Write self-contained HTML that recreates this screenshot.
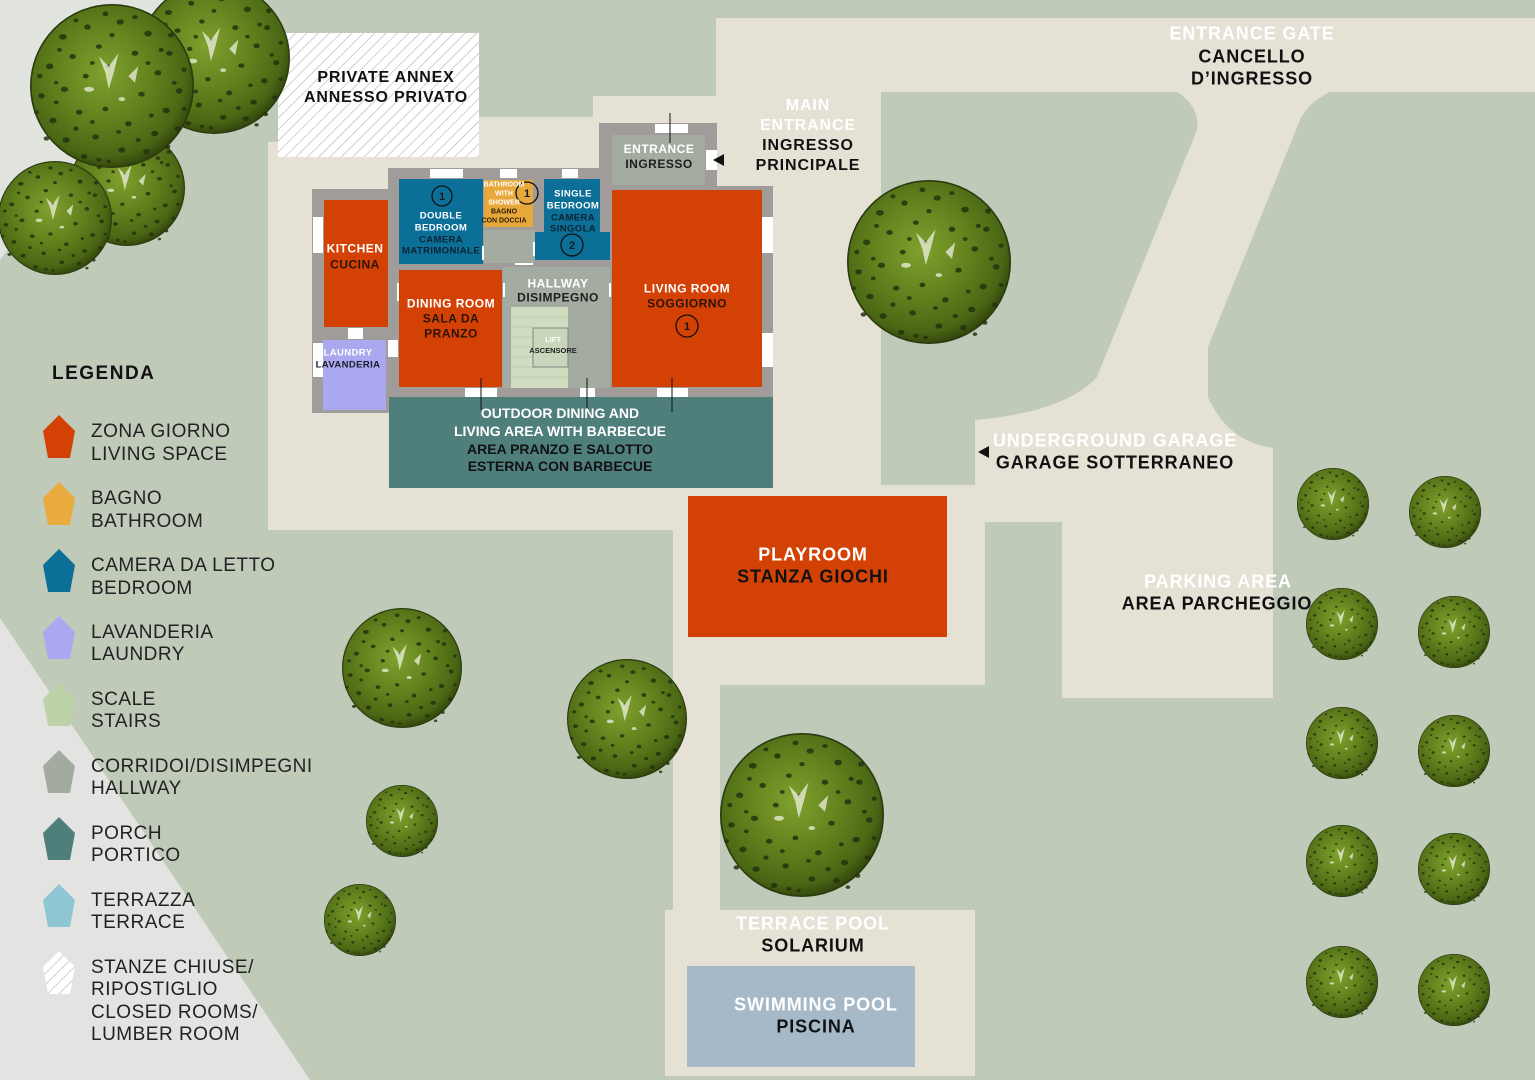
<!DOCTYPE html>
<html><head><meta charset="utf-8">
<style>
html,body{margin:0;padding:0;background:#c0cab9;}
svg{display:block;}
text{font-family:"Liberation Sans",Arial,sans-serif;}
</style></head>
<body>
<svg width="1535" height="1080" viewBox="0 0 1535 1080" xmlns="http://www.w3.org/2000/svg">
<defs>
  <radialGradient id="tg" cx="45%" cy="42%" r="60%">
    <stop offset="0" stop-color="#80a02e"/>
    <stop offset="0.5" stop-color="#62811d"/>
    <stop offset="0.85" stop-color="#4a6614"/>
    <stop offset="1" stop-color="#2f420b"/>
  </radialGradient>
  <symbol id="tree" viewBox="-50 -50 100 100">
    <circle r="49.5" fill="url(#tg)" stroke="#2c3a10" stroke-width="1"/>
    <g fill="#25330e" opacity="0.85">
      <ellipse cx="-30" cy="-30" rx="2.4" ry="1.7"/><ellipse cx="-15" cy="-36" rx="2" ry="1.6"/>
      <ellipse cx="5" cy="-39" rx="2.2" ry="1.6"/><ellipse cx="22" cy="-32" rx="2.3" ry="1.8"/>
      <ellipse cx="35" cy="-20" rx="2" ry="1.6"/><ellipse cx="-38" cy="-12" rx="2.2" ry="1.7"/>
      <ellipse cx="-24" cy="-18" rx="2" ry="1.5"/><ellipse cx="-8" cy="-24" rx="1.8" ry="1.4"/>
      <ellipse cx="14" cy="-20" rx="2" ry="1.6"/><ellipse cx="28" cy="-8" rx="2.1" ry="1.6"/>
      <ellipse cx="41" cy="3" rx="2" ry="1.7"/><ellipse cx="-43" cy="6" rx="2" ry="1.6"/>
      <ellipse cx="-29" cy="2" rx="2.2" ry="1.6"/><ellipse cx="-16" cy="-6" rx="1.8" ry="1.4"/>
      <ellipse cx="18" cy="5" rx="2" ry="1.5"/><ellipse cx="33" cy="15" rx="2.2" ry="1.7"/>
      <ellipse cx="-36" cy="21" rx="2.2" ry="1.7"/><ellipse cx="-20" cy="16" rx="2" ry="1.5"/>
      <ellipse cx="-4" cy="14" rx="1.8" ry="1.4"/><ellipse cx="10" cy="23" rx="2" ry="1.6"/>
      <ellipse cx="26" cy="29" rx="2.2" ry="1.7"/><ellipse cx="-28" cy="33" rx="2.2" ry="1.7"/>
      <ellipse cx="-10" cy="31" rx="2" ry="1.6"/><ellipse cx="6" cy="39" rx="2.1" ry="1.6"/>
      <ellipse cx="21" cy="40" rx="2" ry="1.6"/><ellipse cx="-17" cy="43" rx="2" ry="1.5"/>
      <ellipse cx="36" cy="-31" rx="1.8" ry="1.5"/><ellipse cx="-4" cy="-44" rx="1.8" ry="1.4"/>
      <ellipse cx="-44" cy="-6" rx="1.6" ry="1.3"/><ellipse cx="44" cy="-10" rx="1.6" ry="1.3"/>
      <ellipse cx="40" cy="26" rx="1.8" ry="1.4"/><ellipse cx="-40" cy="32" rx="1.7" ry="1.3"/>
      <ellipse cx="0" cy="-31" rx="1.6" ry="1.3"/><ellipse cx="-32" cy="-22" rx="1.5" ry="1.2"/>
      <ellipse cx="30" cy="-22" rx="1.6" ry="1.3"/><ellipse cx="-22" cy="26" rx="1.6" ry="1.3"/>
      <ellipse cx="16" cy="33" rx="1.6" ry="1.3"/><ellipse cx="-8" cy="45" rx="1.6" ry="1.2"/>
      <ellipse cx="34" cy="37" rx="1.6" ry="1.3"/><ellipse cx="-46" cy="16" rx="1.5" ry="1.2"/>
      <ellipse cx="-22" cy="-40" rx="1.6" ry="1.2"/><ellipse cx="14" cy="-42" rx="1.6" ry="1.2"/>
      <ellipse cx="-12" cy="-14" rx="1.5" ry="1.2"/><ellipse cx="22" cy="-14" rx="1.5" ry="1.2"/>
      <ellipse cx="-34" cy="10" rx="1.5" ry="1.2"/><ellipse cx="38" cy="-2" rx="1.5" ry="1.2"/>
      <ellipse cx="-12" cy="22" rx="1.5" ry="1.2"/><ellipse cx="4" cy="28" rx="1.5" ry="1.2"/>
      <ellipse cx="24" cy="18" rx="1.5" ry="1.2"/><ellipse cx="-2" cy="-12" rx="1.3" ry="1"/>
      <ellipse cx="-34" cy="-2" rx="1.4" ry="1.1"/><ellipse cx="44" cy="14" rx="1.5" ry="1.2"/>
      <ellipse cx="-2" cy="46" rx="1.4" ry="1.1"/><ellipse cx="28" cy="44" rx="1.4" ry="1.1"/>
    </g>
    <g fill="#eef1de" opacity="0.75">
      <path d="M-8,-18 L-2,-12 L4,-20 L1,-8 L-2,2 L-4,-8 Z"/>
      <path d="M10,-6 L16,-12 L14,-2 Z"/>
      <ellipse cx="-14" cy="2" rx="3" ry="1.5"/>
      <ellipse cx="6" cy="8" rx="2" ry="1.2"/>
    </g>
  </symbol>
  <pattern id="hatch" width="8" height="8" patternUnits="userSpaceOnUse" patternTransform="rotate(45)">
    <rect width="8" height="8" fill="#ffffff"/>
    <line x1="0" y1="0" x2="0" y2="8" stroke="#b6b6b6" stroke-width="1.3"/>
  </pattern>
</defs>

<!-- background -->
<rect width="1535" height="1080" fill="#c0cab9"/>
<polygon points="0,618 310,1080 0,1080" fill="#e3e4e1"/>
<polygon points="0,0 200,0 0,260" fill="#e1e3df"/>

<!-- paving -->
<g fill="#e5e1d5">
  <rect x="716" y="18" width="819" height="74"/>
  <rect x="716" y="18" width="165" height="667"/>
  <polygon points="268,142 479,142 479,117 593,117 593,96 716,96 716,530 268,530"/>
  <rect x="673" y="485" width="312" height="200"/>
  <path d="M975,522 L975,420 Q1065,412 1097,377 L1197,130 Q1200,106 1177,92 L1330,92 Q1305,104 1298,125 L1208,347 L1208,397 Q1228,442 1273,448 L1273,698 L1062,698 L1062,522 Z"/>
  <rect x="673" y="685" width="47" height="225"/>
  <rect x="665" y="910" width="310" height="166"/>
</g>

<!-- annex -->
<rect x="278" y="33" width="201" height="124" fill="url(#hatch)"/>

<!-- house walls -->
<path d="M312,189 L388,189 L388,168 L599,168 L599,123 L717,123 L717,186 L773,186 L773,397 L390,397 L390,413 L312,413 Z" fill="#a09c9a"/>
<!-- rooms -->
<rect x="612" y="135" width="93" height="50" fill="#a4aca1"/>
<rect x="324" y="200" width="64" height="127" fill="#d44105"/>
<rect x="323" y="340" width="63" height="70" fill="#aaa8ee"/>
<rect x="399" y="179" width="84" height="85" fill="#0b6f98"/>
<rect x="484" y="180" width="49" height="47" fill="#e8a93c"/>
<rect x="484" y="230" width="51" height="33" fill="#a4aca1"/>
<rect x="544" y="179" width="56" height="81" fill="#0b6f98"/>
<rect x="535" y="232" width="75" height="28" fill="#0b6f98"/>
<rect x="612" y="190" width="150" height="197" fill="#d44105"/>
<rect x="399" y="270" width="103" height="117" fill="#d44105"/>
<rect x="503" y="267" width="107" height="121" fill="#a4aca1"/>
<rect x="511" y="307" width="57" height="81" fill="#cfdcc0"/>
<g stroke="#b9c7ab" stroke-width="0.8">
  <line x1="511" y1="317" x2="568" y2="317"/><line x1="511" y1="327" x2="533" y2="327"/>
  <line x1="511" y1="337" x2="533" y2="337"/><line x1="511" y1="347" x2="533" y2="347"/>
  <line x1="511" y1="357" x2="533" y2="357"/><line x1="511" y1="367" x2="533" y2="367"/>
  <line x1="511" y1="377" x2="568" y2="377"/>
</g>
<rect x="533" y="328" width="35" height="39" fill="#c8d6bb" stroke="#8e948a" stroke-width="1.2"/>

<!-- windows -->
<g fill="#ffffff">
  <rect x="430" y="169" width="33" height="9"/>
  <rect x="500" y="169" width="17" height="9"/>
  <rect x="562" y="169" width="16" height="9"/>
  <rect x="655" y="124" width="33" height="9"/>
  <rect x="706" y="150" width="11" height="20"/>
  <rect x="313" y="217" width="10" height="36"/>
  <rect x="313" y="343" width="10" height="34"/>
  <rect x="348" y="328" width="15" height="11"/>
  <rect x="388" y="340" width="10" height="17"/>
  <rect x="762" y="217" width="11" height="36"/>
  <rect x="762" y="333" width="11" height="34"/>
  <rect x="465" y="388" width="32" height="9"/>
  <rect x="580" y="388" width="15" height="9"/>
  <rect x="657" y="388" width="31" height="9"/>
  <rect x="397" y="283" width="2" height="18"/>
  <rect x="503" y="283" width="2" height="14"/>
  <rect x="609" y="283" width="2" height="14"/>
  <rect x="482" y="246" width="2" height="14"/>
  <rect x="533" y="242" width="2" height="14"/>
  <rect x="515" y="263" width="18" height="2"/>
</g>

<!-- porch -->
<rect x="389" y="397" width="384" height="91" fill="#4f7f7b"/>

<!-- leader lines -->
<g stroke="#111" stroke-width="1">
  <line x1="670" y1="113" x2="670" y2="143"/>
  <line x1="481" y1="378" x2="481" y2="410"/>
  <line x1="587" y1="378" x2="587" y2="412"/>
  <line x1="672" y1="378" x2="672" y2="412"/>
</g>
<polygon points="713,160 724,154 724,166" fill="#111"/>
<polygon points="978,452 989,446 989,458" fill="#111"/>

<!-- playroom & pool -->
<rect x="688" y="496" width="259" height="141" fill="#d44104"/>
<rect x="687" y="966" width="228" height="101" fill="#a6b9c9"/>

<!-- trees -->
<use href="#tree" x="138" y="-18" width="152" height="152"/>
<use href="#tree" x="69" y="130" width="116" height="116"/>
<use href="#tree" x="30" y="4" width="164" height="164"/>
<use href="#tree" x="-2" y="161" width="114" height="114"/>
<use href="#tree" x="847" y="180" width="164" height="164"/>
<use href="#tree" x="342" y="608" width="120" height="120"/>
<use href="#tree" x="567" y="659" width="120" height="120"/>
<use href="#tree" x="720" y="733" width="164" height="164"/>
<use href="#tree" x="366" y="785" width="72" height="72"/>
<use href="#tree" x="324" y="884" width="72" height="72"/>
<use href="#tree" x="1297" y="468" width="72" height="72"/>
<use href="#tree" x="1409" y="476" width="72" height="72"/>
<use href="#tree" x="1306" y="588" width="72" height="72"/>
<use href="#tree" x="1418" y="596" width="72" height="72"/>
<use href="#tree" x="1306" y="707" width="72" height="72"/>
<use href="#tree" x="1418" y="715" width="72" height="72"/>
<use href="#tree" x="1306" y="825" width="72" height="72"/>
<use href="#tree" x="1418" y="833" width="72" height="72"/>
<use href="#tree" x="1306" y="946" width="72" height="72"/>
<use href="#tree" x="1418" y="954" width="72" height="72"/>

<!-- number circles -->
<g fill="none" stroke="#111" stroke-width="1.3">
  <circle cx="442" cy="196" r="10"/>
  <circle cx="527" cy="193" r="11"/>
  <circle cx="572" cy="245" r="11"/>
  <circle cx="687" cy="326" r="11"/>
</g>
<g font-weight="bold" font-size="11" fill="#1a1a1a" text-anchor="middle">
  <text x="442" y="200">1</text>
  <text x="527" y="197">1</text>
  <text x="572" y="249">2</text>
  <text x="687" y="330">1</text>
</g>

<!-- labels -->
<g font-weight="bold" text-anchor="middle">
  <g font-size="16" fill="#111" letter-spacing="0.8">
    <text x="386" y="82">PRIVATE ANNEX</text>
    <text x="386" y="102">ANNESSO PRIVATO</text>
  </g>
  <g font-size="18" letter-spacing="0.9">
    <text x="1252" y="39.5" fill="#ffffff">ENTRANCE GATE</text>
    <text x="1252" y="62.5" fill="#111">CANCELLO</text>
    <text x="1252" y="84.5" fill="#111">D’INGRESSO</text>
  </g>
  <g font-size="16" letter-spacing="0.9">
    <text x="808" y="110" fill="#ffffff">MAIN</text>
    <text x="808" y="130" fill="#ffffff">ENTRANCE</text>
    <text x="808" y="150" fill="#111">INGRESSO</text>
    <text x="808" y="170" fill="#111">PRINCIPALE</text>
  </g>
  <g font-size="12" letter-spacing="0.5">
    <text x="659" y="153" fill="#ffffff">ENTRANCE</text>
    <text x="659" y="168" fill="#1e1e1e">INGRESSO</text>
    <text x="355" y="252.5" fill="#ffffff">KITCHEN</text>
    <text x="355" y="268.5" fill="#2a1408">CUCINA</text>
    <text x="558" y="287.5" fill="#ffffff">HALLWAY</text>
    <text x="558" y="301.5" fill="#1e1e1e">DISIMPEGNO</text>
    <text x="451" y="307.5" fill="#ffffff">DINING ROOM</text>
    <text x="451" y="322.5" fill="#2a1408">SALA DA</text>
    <text x="451" y="337.5" fill="#2a1408">PRANZO</text>
    <text x="687" y="292.5" fill="#ffffff">LIVING ROOM</text>
    <text x="687" y="307.5" fill="#2a1408">SOGGIORNO</text>
  </g>
  <g font-size="9.5" letter-spacing="0.4">
    <text x="441" y="218.5" fill="#ffffff">DOUBLE</text>
    <text x="441" y="230.5" fill="#ffffff">BEDROOM</text>
    <text x="441" y="242.5" fill="#0d2430">CAMERA</text>
    <text x="441" y="253.5" fill="#0d2430">MATRIMONIALE</text>
    <text x="573" y="196.5" fill="#ffffff">SINGLE</text>
    <text x="573" y="208.5" fill="#ffffff">BEDROOM</text>
    <text x="573" y="220.5" fill="#0d2430">CAMERA</text>
    <text x="573" y="231.5" fill="#0d2430">SINGOLA</text>
    <text x="348" y="355.5" fill="#ffffff">LAUNDRY</text>
    <text x="348" y="367.5" fill="#1a1a2a">LAVANDERIA</text>
  </g>
  <g font-size="7">
    <text x="504" y="186.5" fill="#ffffff">BATHROOM</text>
    <text x="504" y="195.5" fill="#ffffff">WITH</text>
    <text x="504" y="204.5" fill="#ffffff">SHOWER</text>
    <text x="504" y="213.5" fill="#2a1a08">BAGNO</text>
    <text x="504" y="222.5" fill="#2a1a08">CON DOCCIA</text>
  </g>
  <g font-size="7.5">
    <text x="553" y="342" fill="#ffffff">LIFT</text>
    <text x="553" y="353" fill="#222">ASCENSORE</text>
  </g>
  <g font-size="14">
    <text x="560" y="418" fill="#ffffff">OUTDOOR DINING AND</text>
    <text x="560" y="436" fill="#ffffff">LIVING AREA WITH BARBECUE</text>
    <text x="560" y="454" fill="#111">AREA PRANZO E SALOTTO</text>
    <text x="560" y="471" fill="#111">ESTERNA CON BARBECUE</text>
  </g>
  <g font-size="18" letter-spacing="0.9">
    <text x="813" y="560.5" fill="#ffffff">PLAYROOM</text>
    <text x="813" y="582.5" fill="#111">STANZA GIOCHI</text>
    <text x="1115" y="446.5" fill="#ffffff">UNDERGROUND GARAGE</text>
    <text x="1115" y="468.5" fill="#111">GARAGE SOTTERRANEO</text>
    <text x="1218" y="587.5" fill="#ffffff">PARKING AREA</text>
    <text x="1217" y="609.5" fill="#111">AREA PARCHEGGIO</text>
    <text x="813" y="929.5" fill="#ffffff">TERRACE POOL</text>
    <text x="813" y="951.5" fill="#111">SOLARIUM</text>
    <text x="816" y="1010.5" fill="#ffffff">SWIMMING POOL</text>
    <text x="816" y="1032.5" fill="#111">PISCINA</text>
  </g>
</g>

<!-- legend -->
<text x="52" y="379" font-size="19" font-weight="bold" letter-spacing="1.5" fill="#111">LEGENDA</text>
<g>
  <polygon points="59,415 75,431 70,458 48,458 43,431" fill="#d44105"/>
  <polygon points="59,482 75,498 70,525 48,525 43,498" fill="#e9ab3d"/>
  <polygon points="59,549 75,565 70,592 48,592 43,565" fill="#0b6f98"/>
  <polygon points="59,616 75,632 70,659 48,659 43,632" fill="#aaa8f0"/>
  <polygon points="59,683 75,699 70,726 48,726 43,699" fill="#bdd3a7"/>
  <polygon points="59,750 75,766 70,793 48,793 43,766" fill="#a3aaa0"/>
  <polygon points="59,817 75,833 70,860 48,860 43,833" fill="#4f7f7b"/>
  <polygon points="59,884 75,900 70,927 48,927 43,900" fill="#8ec7d3"/>
  <polygon points="59,951 75,967 70,994 48,994 43,967" fill="url(#hatch)"/>
</g>
<g font-size="19" letter-spacing="0.5" fill="#222">
  <text x="91" y="437">ZONA GIORNO</text>
  <text x="91" y="460">LIVING SPACE</text>
  <text x="91" y="504">BAGNO</text>
  <text x="91" y="527">BATHROOM</text>
  <text x="91" y="571">CAMERA DA LETTO</text>
  <text x="91" y="594">BEDROOM</text>
  <text x="91" y="638">LAVANDERIA</text>
  <text x="91" y="660">LAUNDRY</text>
  <text x="91" y="705">SCALE</text>
  <text x="91" y="727">STAIRS</text>
  <text x="91" y="772">CORRIDOI/DISIMPEGNI</text>
  <text x="91" y="794">HALLWAY</text>
  <text x="91" y="839">PORCH</text>
  <text x="91" y="861">PORTICO</text>
  <text x="91" y="906">TERRAZZA</text>
  <text x="91" y="928">TERRACE</text>
  <text x="91" y="973">STANZE CHIUSE/</text>
  <text x="91" y="995">RIPOSTIGLIO</text>
  <text x="91" y="1018">CLOSED ROOMS/</text>
  <text x="91" y="1040">LUMBER ROOM</text>
</g>
</svg>
</body></html>
